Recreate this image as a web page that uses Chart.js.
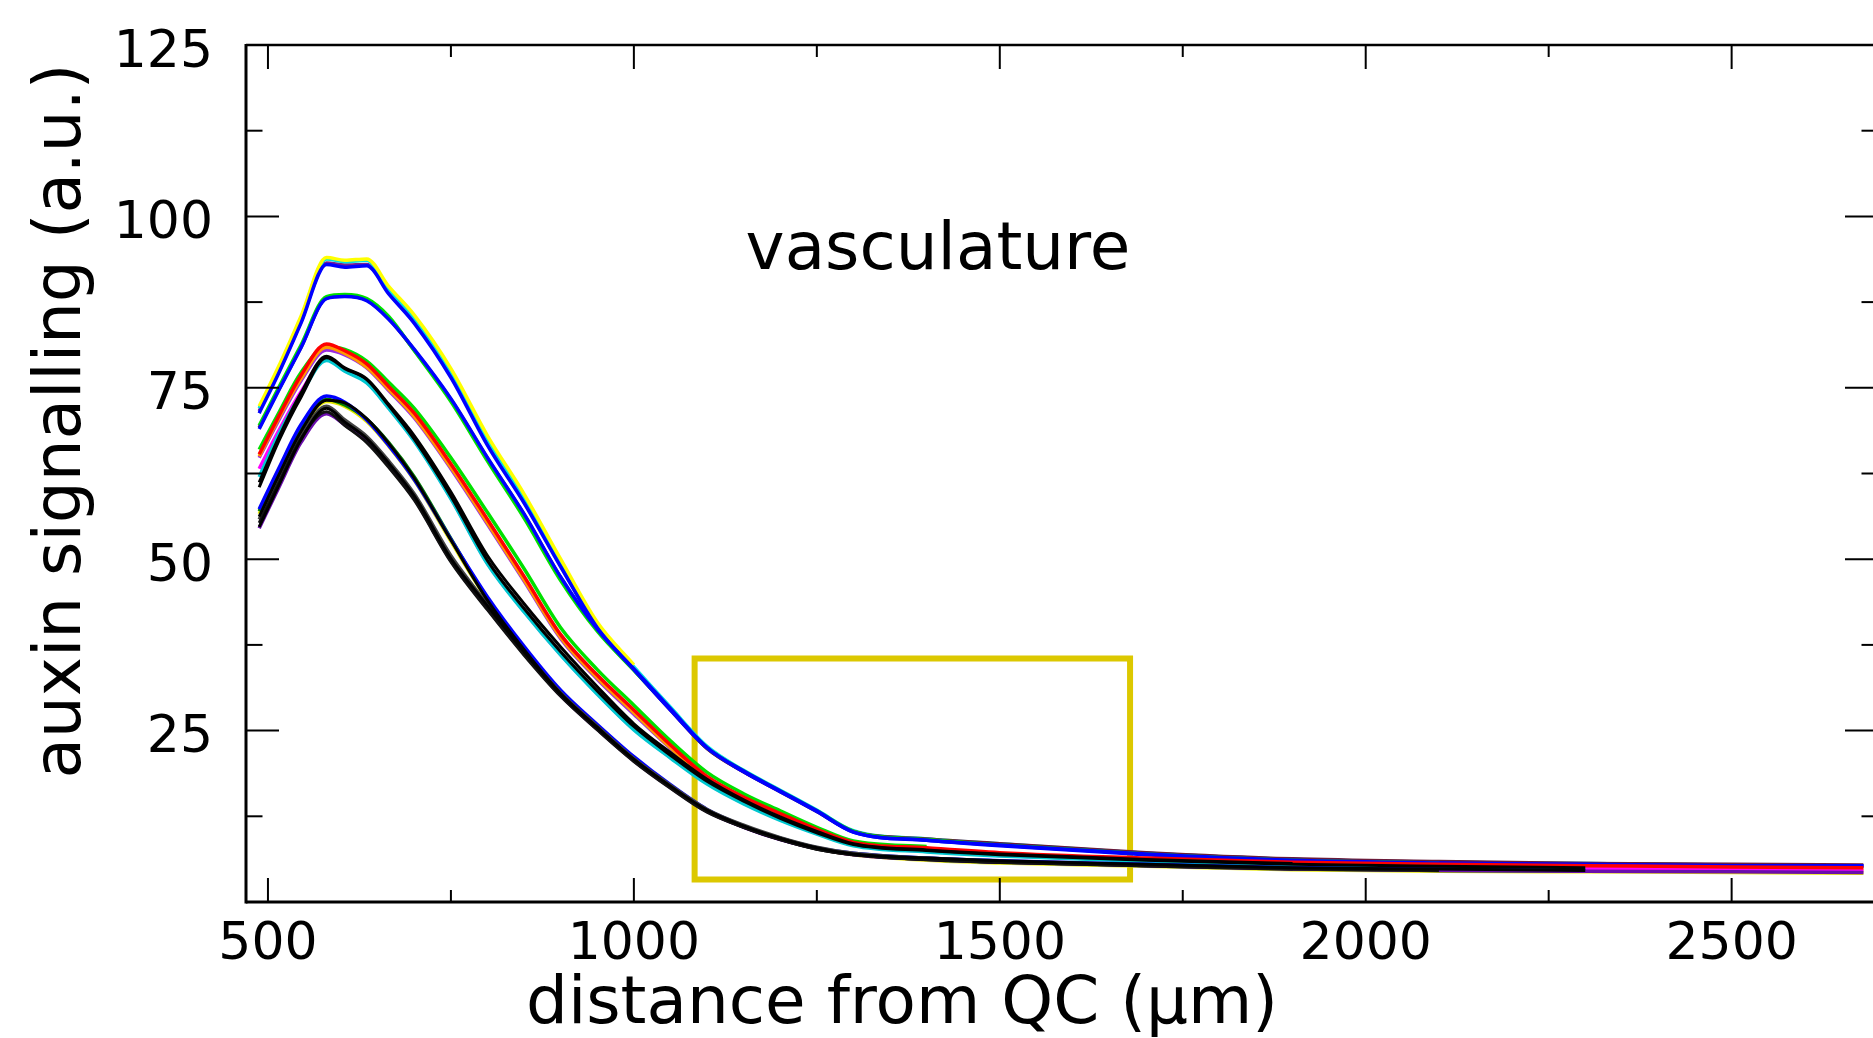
<!DOCTYPE html>
<html>
<head>
<meta charset="utf-8">
<title>auxin signalling - vasculature</title>
<script src="https://cdn.jsdelivr.net/npm/chart.js@4.4.1/dist/chart.umd.min.js"></script>
<style>
  html, body { margin: 0; padding: 0; background: #fff; overflow: hidden; }
  canvas { display: block; }
</style>
</head>
<body>
<canvas id="auxinChart" width="1900" height="1038"></canvas>
<script>
// sample positions along the root, distance from QC (µm)
const distances = [488, 515, 545, 580, 605, 635, 665, 700, 750, 800, 850, 900, 950, 1000,
  1050, 1100, 1150, 1200, 1250, 1300, 1400, 1500, 1700, 1900, 2100, 2300, 2500, 2680];

// auxin signalling profiles (a.u.), one per root; shorter ones stop early
// highest group (peak ~94)
const rootA1 = [72.3, 78.2, 85.4, 94.0, 93.6, 93.8, 89.8, 85.6, 77.8, 68.0, 59.5, 50.0, 40.8, 34.6];
const rootA2 = [72.0, 77.9, 85.1, 93.8, 93.4, 93.6, 89.4, 85.2, 77.3, 67.5, 59.0, 49.6, 40.4, 34.3, 28.4, 22.7, 19.2, 16.3, 13.4, 10.4, 9.2, 8.5, 7.1, 6.2, 5.8, 5.6, 5.4];
const rootA3 = [71.6, 77.4, 84.6, 93.2, 92.9, 93.0, 88.9, 84.7, 76.8, 66.9, 58.4, 49.1, 40.0, 33.9, 28.0, 22.4, 19.0, 16.2, 13.3, 10.3, 9.1, 8.4, 7.1, 6.2, 5.8, 5.6, 5.4, 5.3];
const rootA4 = [71.3, 77.2, 84.4, 93.0, 92.6, 92.8, 88.7, 84.4, 76.5, 66.6, 58.2, 48.9, 40.0, 33.9, 28.0, 22.5, 19.0, 16.1, 13.2, 10.2, 9.0, 8.3, 7.0, 6.1, 5.7, 5.5, 5.3, 5.2];
// peak ~88
const rootB1 = [69.5, 75.1, 81.2, 88.3, 88.6, 88.0, 85.4, 80.4, 73.0, 64.3, 56.0, 46.9, 39.5, 33.8, 28.1, 22.5, 19.1, 16.2, 13.3, 10.3, 9.1, 8.3, 7.0, 6.1, 5.7];
const rootB2 = [69.2, 74.8, 80.9, 88.1, 88.4, 87.8, 85.1, 80.5, 73.3, 64.7, 56.5, 47.3, 39.7, 33.9, 28.1, 22.4, 19.0, 16.1, 13.2, 10.3, 9.2, 8.5, 7.2, 6.3, 5.9, 5.6, 5.5, 5.4];
const rootB3 = [69.0, 74.7, 80.8, 88.0, 88.3, 87.7, 85.0, 80.6, 73.4, 64.8, 56.6, 47.4, 39.8, 34.0, 28.2, 22.5, 19.1, 16.2, 13.3, 10.2, 9.0, 8.2, 6.9, 6.0, 5.6, 5.4, 5.3, 5.3];
// peak ~81
const rootC1 = [65.0, 70.6, 76.3, 80.9, 80.0, 78.0, 74.8, 70.8, 63.4, 55.3, 47.0, 38.6, 32.7, 27.6, 22.5, 18.0, 15.0, 12.6, 10.3, 8.5, 7.7, 7.0, 6.2, 5.6, 5.3, 5.1, 4.9, 4.8];
const rootC2 = [65.3, 70.9, 76.8, 81.4, 80.4, 78.5, 75.2, 71.3, 63.9, 55.8, 47.5, 39.0, 33.1, 28.0, 22.9, 18.3, 15.3, 12.9, 10.6, 8.7, 7.9, 7.2, 6.4, 5.8, 5.5, 5.3, 5.1, 5.0];
const rootC3 = [66.0, 71.4, 77.2, 81.0, 80.6, 78.9, 75.8, 72.0, 64.8, 56.8, 48.6, 40.0, 33.9, 28.7, 23.5, 18.9, 15.8, 13.3, 10.9, 8.9, 8.1];
const rootC4 = [64.8, 70.3, 76.0, 80.5, 79.8, 77.9, 74.6, 70.6, 63.2, 55.1, 46.8, 38.4, 32.5, 27.4, 22.4, 17.9, 14.9, 12.5, 10.3, 8.4, 7.6, 6.9, 6.1, 5.5, 5.1, 4.8, 4.5, 4.3];
// peak ~79
const rootD1 = [60.5, 67.3, 73.6, 79.4, 77.8, 76.2, 72.4, 67.5, 59.2, 49.8, 42.8, 36.5, 30.8, 25.6, 21.4, 17.6, 14.7, 12.2, 10.1, 8.4, 7.5, 6.9, 6.1, 5.5, 5.2, 5.0];
const rootD2 = [62.0, 68.3, 74.0, 79.0, 77.4, 75.7, 72.0, 67.2, 58.8, 49.3, 42.3, 36.0, 30.3, 25.1, 21.0, 17.2, 14.3, 11.9, 9.9, 8.2, 7.3, 6.7, 5.9, 5.4, 5.1, 4.9];
const rootD3 = [63.2, 68.8, 74.4, 79.2, 77.5, 75.8, 72.1, 67.3, 58.9, 49.4, 42.4, 36.1, 30.4, 25.2, 21.1, 17.3, 14.4, 12.0, 10.0, 8.3, 7.4, 6.8, 6.0, 5.4, 5.1, 4.9, 4.7, 4.6];
const rootD4 = [61.2, 67.8, 74.2, 79.6, 77.9, 76.3, 72.6, 68.0, 59.8, 50.5, 43.5, 37.2, 31.4, 26.0, 21.8, 17.9, 14.9, 12.4, 10.3, 8.5, 7.6, 7.0, 6.2, 5.6];
// peak ~73
const rootE1 = [57.3, 63.3, 69.6, 73.8, 72.9, 70.3, 66.6, 61.6, 52.9, 44.5, 37.3, 30.9, 25.9, 21.2, 17.1, 13.5, 11.1, 9.3, 7.9, 7.1, 6.4, 6.0, 5.5, 5.0, 4.8, 4.6];
const rootE2 = [57.0, 62.8, 69.0, 73.3, 72.5, 70.4, 67.0, 62.0, 53.0, 44.2, 37.0, 30.6, 25.7, 21.0, 17.0, 13.4, 11.1, 9.3, 7.9, 7.0, 6.2, 5.8, 5.3, 4.8, 4.6, 4.5];
const rootE3 = [56.6, 62.5, 68.7, 73.0, 72.3, 70.1, 66.5, 61.5, 52.6, 44.0, 36.9, 30.5, 25.6, 20.9, 16.9, 13.3, 11.0, 9.2, 7.8, 6.9, 6.1, 5.7, 5.2, 4.7, 4.5, 4.4, 4.3, 4.2];
const rootE4 = [56.2, 62.3, 68.6, 73.2, 72.8, 70.5, 66.9, 61.8, 52.8, 44.0, 36.8, 30.4, 25.5, 20.8, 16.8, 13.2, 10.9, 9.1, 7.7, 6.9, 6.2, 5.8, 5.3, 4.85];
// peak ~72
const rootF1 = [54.7, 60.8, 67.4, 72.0, 70.0, 67.6, 64.0, 59.2, 50.1, 43.2, 36.5, 30.3, 25.4, 20.8, 16.9, 13.4, 11.1, 9.3, 7.9, 7.0, 6.4, 6.0, 5.5, 5.0, 4.8, 4.6];
const rootF2 = [55.3, 61.2, 67.6, 71.5, 69.5, 67.0, 63.4, 58.6, 49.6, 42.6, 36.0, 30.0, 25.1, 20.5, 16.6, 13.1, 10.9, 9.1, 7.7, 6.9, 6.2, 5.8, 5.3, 4.8, 4.6];
const rootF3 = [54.5, 60.5, 67.0, 71.2, 69.6, 67.2, 63.6, 58.8, 49.8, 42.8, 36.2, 30.1, 25.2, 20.6, 16.7, 13.2, 10.9, 9.1, 7.8, 6.9, 6.2, 5.8, 5.3, 4.8, 4.6, 4.5, 4.4, 4.3];
const rootF4 = [55.8, 61.5, 67.8, 72.3, 70.3, 67.9, 64.3, 59.5, 50.5, 43.4, 36.6, 30.5, 25.6, 20.9, 17.0, 13.5, 11.2, 9.4, 8.0, 7.1, 6.4, 5.9, 5.4, 4.9, 4.7];

// axis ticks
const xTicks = [500, 1000, 1500, 2000, 2500];
const xMinorTicks = [750, 1250, 1750, 2250];
const yTicks = [0, 25, 50, 75, 100, 125];
const yMinorTicks = [12.5, 37.5, 62.5, 87.5, 112.5];

// highlighted region (µm, a.u.)
const boxX = [1083, 1678];
const boxY = [3.3, 35.5];

// first entry is drawn on top
const lines = [
  [rootF1, '#000000'], [rootF2, '#111111'], [rootE4, '#000000'],
  [rootD1, '#000000'], [rootD4, '#000000'],
  [rootC2, '#ff0000'], [rootB3, '#0000ff'], [rootA4, '#0000ff'], [rootA1, '#ffff00'],
  [rootF4, '#444444'], [rootF3, '#6a0dad'], [rootE1, '#0000ff'], [rootE2, '#008000'], [rootE3, '#e8e800'],
  [rootD2, '#00c8d0'], [rootD3, '#ff00ff'],
  [rootC1, '#ff9900'], [rootC3, '#00e000'], [rootC4, '#9a2be2'],
  [rootB1, '#00e000'], [rootB2, '#6b1a3a'],
  [rootA2, '#00e0e0'], [rootA3, '#7a1f8f']
];

const datasets = lines.map(([vals, color]) => ({
  data: vals.map((v, j) => ({ x: distances[j], y: v })),
  borderColor: color,
  borderWidth: color === '#000000' || color === '#111111' ? 3 : 3.5,
  pointRadius: 0,
  fill: false,
  cubicInterpolationMode: 'monotone'
}));

// box drawn last so it sits under the profiles
datasets.push({
  data: [
    { x: boxX[0], y: boxY[1] }, { x: boxX[1], y: boxY[1] },
    { x: boxX[1], y: boxY[0] }, { x: boxX[0], y: boxY[0] },
    { x: boxX[0], y: boxY[1] }, { x: boxX[1], y: boxY[1] }
  ],
  borderColor: '#dcc800',
  borderWidth: 6,
  borderJoinStyle: 'miter',
  pointRadius: 0,
  tension: 0,
  fill: false
});

const FONT = '"DejaVu Sans", sans-serif';

// frame with inward ticks on all four sides, plus the text
const framePlugin = {
  id: 'frame',
  afterDraw(chart) {
    const { ctx, chartArea: a } = chart;
    const xs = chart.scales.x, ys = chart.scales.y;
    const line = (x1, y1, x2, y2) => {
      ctx.beginPath(); ctx.moveTo(x1, y1); ctx.lineTo(x2, y2); ctx.stroke();
    };
    ctx.save();
    ctx.strokeStyle = '#000';
    ctx.lineWidth = 2;
    xTicks.forEach(v => {
      const p = xs.getPixelForValue(v);
      line(p, a.bottom, p, a.bottom - 24);
      line(p, a.top, p, a.top + 24);
    });
    xMinorTicks.forEach(v => {
      const p = xs.getPixelForValue(v);
      line(p, a.bottom, p, a.bottom - 12);
      line(p, a.top, p, a.top + 12);
    });
    yTicks.forEach(v => {
      const p = ys.getPixelForValue(v);
      line(a.left, p, a.left + 33, p);
      line(a.right, p, a.right - 33, p);
    });
    yMinorTicks.forEach(v => {
      const p = ys.getPixelForValue(v);
      line(a.left, p, a.left + 16.5, p);
      line(a.right, p, a.right - 16.5, p);
    });
    ctx.lineWidth = 2.5;
    line(a.left, a.top, a.right, a.top);
    line(a.right, a.top, a.right, a.bottom);
    ctx.lineWidth = 3;
    line(a.left, a.top - 1, a.left, a.bottom + 1.5);
    line(a.left, a.bottom, a.right, a.bottom);

    ctx.fillStyle = '#000';
    ctx.font = '66px ' + FONT;
    ctx.textAlign = 'center';
    ctx.textBaseline = 'alphabetic';
    ctx.fillText('vasculature', 938, 269);
    ctx.fillText('distance from QC (µm)', 902, 1023);
    ctx.translate(80, 421);
    ctx.rotate(-Math.PI / 2);
    ctx.fillText('auxin signalling (a.u.)', 0, 0);
    ctx.restore();
  }
};

const noPad = s => { s.paddingTop = 0; s.paddingBottom = 0; s.paddingLeft = 0; s.paddingRight = 0; };

new Chart(document.getElementById('auxinChart'), {
  type: 'line',
  data: { datasets: datasets },
  options: {
    responsive: false,
    animation: false,
    layout: { padding: { left: 0, top: 45, right: 22, bottom: 0 } },
    scales: {
      x: {
        type: 'linear',
        min: 470,
        max: 2700,
        grid: { display: false, drawTicks: false },
        border: { display: false },
        afterBuildTicks: s => { s.ticks = xTicks.map(v => ({ value: v })); },
        afterFit: s => { s.height = 136; noPad(s); },
        ticks: {
          autoSkip: false,
          maxRotation: 0,
          padding: 12,
          color: '#000',
          font: { family: FONT, size: 52 },
          callback: v => String(v)
        }
      },
      y: {
        type: 'linear',
        min: 0,
        max: 125,
        grid: { display: false, drawTicks: false },
        border: { display: false },
        afterBuildTicks: s => { s.ticks = yTicks.filter(v => v > 0).map(v => ({ value: v })); },
        afterFit: s => { s.width = 246; noPad(s); },
        ticks: {
          padding: 33,
          labelOffset: 8,
          color: '#000',
          font: { family: FONT, size: 52 },
          callback: v => String(v)
        }
      }
    },
    plugins: {
      legend: { display: false },
      tooltip: { enabled: false }
    }
  },
  plugins: [framePlugin]
});
</script>
</body>
</html>
